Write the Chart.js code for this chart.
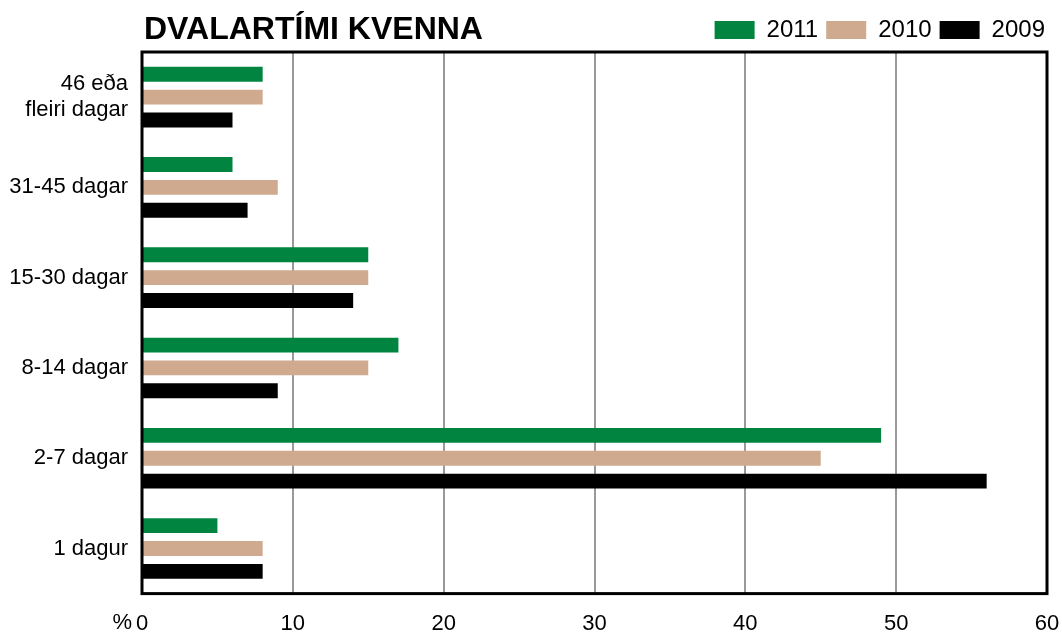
<!DOCTYPE html>
<html>
<head>
<meta charset="utf-8">
<script src="https://cdn.jsdelivr.net/npm/chart.js@4/dist/chart.umd.min.js"></script>
<style>
  html, body { margin: 0; padding: 0; background: #fff; }
  #wrap { width: 1062px; height: 634px; }
</style>
</head>
<body>
<div id="wrap"><canvas id="myChart" width="1062" height="634"></canvas></div>
<script>
// data
var categories = [["46 eða", "fleiri dagar"], "31-45 dagar", "15-30 dagar", "8-14 dagar", "2-7 dagar", "1 dagur"]
var years = ["2011", "2010", "2009"]
var values2011 = [8, 6, 15, 17, 49, 5]
var values2010 = [8, 9, 15, 15, 45, 8]
var values2009 = [6, 7, 14, 9, 56, 8]
var xTicks = [0, 10, 20, 30, 40, 50, 60]
var title = "DVALARTÍMI KVENNA"

var colors = ["#00843f", "#cfaa8f", "#000000"]
var font = "'Liberation Sans', Arial, sans-serif"

// title, frame and the % sign
var framePlugin = {
    id: 'frame',
    afterDraw: function(chart){
        var ctx = chart.ctx
        var a = chart.chartArea
        ctx.save()
        ctx.strokeStyle = "#000"
        ctx.lineWidth = 3
        ctx.strokeRect(a.left, a.top, a.right - a.left, a.bottom - a.top)
        ctx.fillStyle = "#000"
        ctx.font = "bold 32px " + font
        ctx.textAlign = "left"
        ctx.textBaseline = "alphabetic"
        ctx.fillText(title, a.left + 2, 39)
        ctx.font = "22px " + font
        ctx.textAlign = "right"
        ctx.textBaseline = "middle"
        var x0 = chart.scales.x.getPixelForValue(0)
        ctx.fillText("%", x0 - 10, 623)
        ctx.restore()
    }
}

var ctx = document.getElementById("myChart")
var data = {
    labels: categories,
    datasets: [
        { label: years[0], data: values2011, backgroundColor: colors[0] },
        { label: years[1], data: values2010, backgroundColor: colors[1] },
        { label: years[2], data: values2009, backgroundColor: colors[2] }
    ]
}

var myChart = new Chart(ctx, {
    type: 'bar',
    data: data,
    plugins: [framePlugin],
    options: {
        indexAxis: 'y',
        responsive: false,
        animation: false,
        categoryPercentage: 0.76,
        barPercentage: 0.65,
        layout: { padding: { left: 0, right: 9, top: 10, bottom: 0 } },
        plugins: {
            legend: {
                position: 'top',
                align: 'end',
                labels: {
                    boxWidth: 40,
                    boxHeight: 18,
                    padding: 8,
                    color: "#000",
                    font: { family: font, size: 24 }
                }
            },
            tooltip: { enabled: false }
        },
        scales: {
            x: {
                min: 0,
                max: 60,
                afterBuildTicks: function(scale){
                    scale.ticks = xTicks.map(function(v){ return { value: v } })
                },
                afterFit: function(scale){
                    scale.height = 39
                    scale.paddingLeft = 0
                    scale.paddingRight = 15
                },
                grid: { color: "#999", lineWidth: 2, drawTicks: false },
                border: { display: false },
                ticks: {
                    padding: 17,
                    color: "#000",
                    maxRotation: 0,
                    font: { family: font, size: 22 }
                }
            },
            y: {
                afterFit: function(scale){ scale.width = 142 },
                grid: { display: false, drawTicks: false },
                border: { display: false },
                ticks: {
                    padding: 14,
                    color: "#000",
                    font: { family: font, size: 22, lineHeight: 1.2 }
                }
            }
        }
    }
})
</script>
</body>
</html>
